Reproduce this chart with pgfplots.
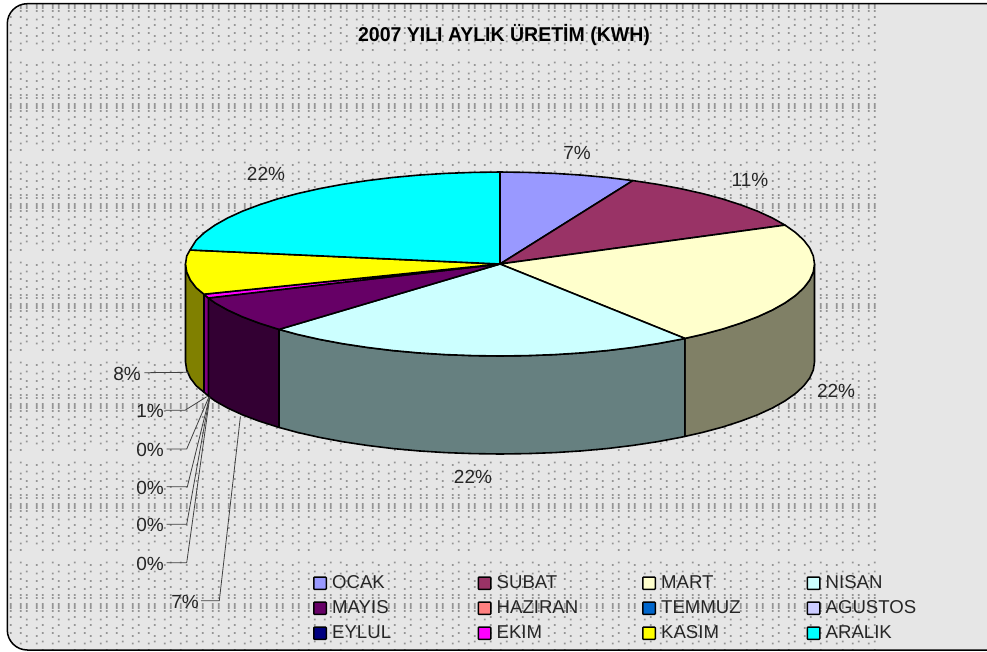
\documentclass[border=0pt]{standalone}
\usepackage{graphicx}
\usepackage{fontspec}
\setmainfont{Liberation Sans}
\usepackage{pgfplots}
\pgfplotsset{compat=1.18}
\definecolor{bgc}{HTML}{E6E6E6}
\definecolor{dotc}{HTML}{959595}
\definecolor{cOCAK}{HTML}{9999FF}
\definecolor{cSUBAT}{HTML}{993366}
\definecolor{cMART}{HTML}{FFFFCC}
\definecolor{cNISAN}{HTML}{CCFFFF}
\definecolor{cMAYIS}{HTML}{660066}
\definecolor{cHAZIRAN}{HTML}{FF8080}
\definecolor{cTEMMUZ}{HTML}{0066CC}
\definecolor{cAGUSTOS}{HTML}{CCCCFF}
\definecolor{cEYLUL}{HTML}{000080}
\definecolor{cEKIM}{HTML}{FF00FF}
\definecolor{cKASIM}{HTML}{FFFF00}
\definecolor{cARALIK}{HTML}{00FFFF}
\definecolor{sMART}{HTML}{808066}
\definecolor{sNISAN}{HTML}{668080}
\definecolor{sMAYIS}{HTML}{330033}
\definecolor{sEKIM}{HTML}{800080}
\definecolor{sKASIM}{HTML}{808000}
\def\tile{0/4,6/4,16/4,22/4,0/6,6/6,16/6,22/6,0/8,6/8,16/8,22/8,0/11,6/11,16/11,22/11,
0/17,22/17,6/19.5,16/19.5,6/25,22/25,0/28,16/28,0/33,22/33,6/36,16/36,6/41.5,22/41.5,0/43.5,16/43.5,0/50,22/50,
0/62.5,22/62.5,6/65,16/65,6/71.5,22/71.5,0/73.5,16/73.5,0/79,22/79,6/81,16/81,6/87,22/87,0/89,16/89,
0/95,6/95,16/95,22/95,0/98,6/98,16/98,22/98}
\newcommand{\lab}[3]{\node[font=\fontsize{19pt}{22pt}\selectfont,text=black!85,inner sep=0pt] at (axis cs:#1,#2) {#3};}
\pgfplotsset{slice/.style={draw=black,line width=1.6pt,line join=round,fill=#1,forget plot,no markers},
  leader/.style={draw=black!75,line width=0.8pt,forget plot,no markers}}
\begin{document}
\begin{tikzpicture}
\useasboundingbox (0,0) rectangle (987pt,651pt);
\clip (0,0) rectangle (987pt,651pt);
\begin{scope}[x=1pt,y=1pt]
\fill[bgc,rounded corners=20pt] (7.3,1) rectangle (1010,647.3);
\begin{scope}
\clip[rounded corners=20pt] (7.3,1) rectangle (1010,647.3);
\clip (0,0) rectangle (876.5,651);
\foreach \kx in {0,...,27}{\foreach \ky in {0,...,6}{
  \fill[dotc] \foreach \dx/\dy in \tile {(\kx*32+\dx-12.2,650.1-\ky*100-\dy) rectangle +(1.8,1.8)};
}}
\end{scope}
\draw[black,line width=1.5pt,rounded corners=20pt] (7.3,1) rectangle (1010,647.3);
\end{scope}
\begin{axis}[at={(0,0)},anchor=south west,scale only axis,width=987pt,height=651pt,
  xmin=0,xmax=987,ymin=0,ymax=651,y dir=reverse,hide axis,clip=false,
  title={\scalebox{0.975}[1]{2007 YILI AYLIK ÜRETİM (KWH)}},
  title style={at={(axis description cs:0.5106,0.9369)},anchor=center,inner sep=0pt,font=\bfseries\fontsize{20pt}{22pt}\selectfont},
  legend columns=4,
  legend style={at={(axis cs:313,576)},anchor=north west,draw=none,fill=none,inner sep=0pt,outer sep=0pt,
    font=\fontsize{18.6pt}{22pt}\selectfont,text=black!85,row sep=10.5pt,column sep=0pt,
    nodes={inner sep=0pt,outer sep=0pt},cells={anchor=west}},
  legend image code/.code={\draw[#1,draw=black,line width=1.5pt,rounded corners=0.8pt] (0pt,-6.2pt) rectangle (12.5pt,6.2pt);},
]
% sides
\addplot[slice=sMART] coordinates {(814.5,264)(813.3,272)(809.7,280)(803.8,287.8)(795.5,295.5)(785,302.9)(772.4,310)(757.6,316.8)(740.9,323.1)(722.4,329.1)(702.2,334.5)(684.9,338.4)(684.9,436.4)(702.2,432.5)(722.4,427.1)(740.9,421.1)(757.6,414.8)(772.4,408)(785,400.9)(795.5,393.5)(803.8,385.8)(809.7,378)(813.3,370)(814.5,362)} -- cycle;
\addplot[slice=sNISAN] coordinates {(684.9,338.4)(680.4,339.4)(657.3,343.7)(632.9,347.4)(607.6,350.5)(581.4,352.9)(554.6,354.6)(527.4,355.6)(500,356)(472.6,355.6)(445.4,354.6)(418.6,352.9)(392.4,350.5)(367.1,347.4)(342.7,343.7)(319.6,339.4)(297.8,334.5)(279,329.4)(279,427.4)(297.8,432.5)(319.6,437.4)(342.7,441.7)(367.1,445.4)(392.4,448.5)(418.6,450.9)(445.4,452.6)(472.6,453.6)(500,454)(527.4,453.6)(554.6,452.6)(581.4,450.9)(607.6,448.5)(632.9,445.4)(657.3,441.7)(680.4,437.4)(684.9,436.4)} -- cycle;
\addplot[slice=sMAYIS] coordinates {(279,329.4)(259.1,323.1)(242.4,316.8)(227.6,310)(215,302.9)(208.3,298)(208.3,396)(215,400.9)(227.6,408)(242.4,414.8)(259.1,421.1)(279,427.4)} -- cycle;
\addplot[slice=sEKIM] coordinates {(208.3,298)(204,294.2)(204,392.2)(208.3,396)} -- cycle;
\addplot[slice=sKASIM] coordinates {(204,294.2)(196.2,287.8)(190.3,280)(186.7,272)(185.5,264)(185.5,362)(186.7,370)(190.3,378)(196.2,385.8)(204,392.2)} -- cycle;
% top face
\addplot[slice=cOCAK] coordinates {(500,264)(500,172)(527.4,172.4)(554.6,173.4)(581.4,175.1)(607.6,177.5)(632.9,180.6)} -- cycle;
\addplot[slice=cSUBAT] coordinates {(500,264)(632.9,180.6)(657.3,184.3)(680.4,188.6)(702.2,193.5)(722.4,198.9)(740.9,204.9)(757.6,211.2)(772.4,218)(785,225.1)} -- cycle;
\addplot[slice=cMART] coordinates {(500,264)(785,225.1)(795.5,232.5)(803.8,240.2)(809.7,248)(813.3,256)(814.5,264)(813.3,272)(809.7,280)(803.8,287.8)(795.5,295.5)(785,302.9)(772.4,310)(757.6,316.8)(740.9,323.1)(722.4,329.1)(702.2,334.5)(684.9,338.4)} -- cycle;
\addplot[slice=cNISAN] coordinates {(500,264)(684.9,338.4)(680.4,339.4)(657.3,343.7)(632.9,347.4)(607.6,350.5)(581.4,352.9)(554.6,354.6)(527.4,355.6)(500,356)(472.6,355.6)(445.4,354.6)(418.6,352.9)(392.4,350.5)(367.1,347.4)(342.7,343.7)(319.6,339.4)(297.8,334.5)(279,329.4)} -- cycle;
\addplot[slice=cMAYIS] coordinates {(500,264)(279,329.4)(259.1,323.1)(242.4,316.8)(227.6,310)(215,302.9)(208.3,298)} -- cycle;
\addplot[slice=cEKIM] coordinates {(500,264)(208.3,298)(204,294.2)} -- cycle;
\addplot[slice=cKASIM] coordinates {(500,264)(204,294.2)(196.2,287.8)(190.3,280)(186.7,272)(185.5,264)(186.7,256)(190,250)} -- cycle;
\addplot[slice=cARALIK] coordinates {(500,264)(190,250)(196.2,240.2)(204.5,232.5)(215,225.1)(227.6,218)(242.4,211.2)(259.1,204.9)(277.6,198.9)(297.8,193.5)(319.6,188.6)(342.7,184.3)(367.1,180.6)(392.4,177.5)(418.6,175.1)(445.4,173.4)(472.6,172.4)(500,172)} -- cycle;
% leader lines
\addplot[leader] coordinates {(144.3,372.7)(187.3,372.3)(188.7,373)};
\addplot[leader] coordinates {(165.3,410.3)(185,410.3)(206.7,396.7)};
\addplot[leader] coordinates {(166.7,449)(186.7,449)(209,396.7)};
\addplot[leader] coordinates {(166.7,486.7)(187.3,486.7)(209.5,397)};
\addplot[leader] coordinates {(166.7,524.3)(186.7,524.3)(209.5,397)};
\addplot[leader] coordinates {(166.7,562.7)(186.7,562.7)(209.8,397)};
\addplot[leader] coordinates {(201,600.7)(219.3,600.7)(240.4,416.5)};
% labels
\lab{577}{153}{7\%}
\lab{750}{180}{11\%}
\lab{836}{391}{22\%}
\lab{473}{477}{22\%}
\lab{266}{174}{22\%}
\lab{127}{374}{8\%}
\lab{150}{411}{1\%}
\lab{150}{450}{0\%}
\lab{150}{488}{0\%}
\lab{150}{525}{0\%}
\lab{150}{564}{0\%}
\lab{185}{602}{7\%}
% legend
\addlegendimage{fill=cOCAK}\addlegendentry{\makebox[150.5pt][l]{\ OCAK}}
\addlegendimage{fill=cSUBAT}\addlegendentry{\makebox[150.5pt][l]{\ SUBAT}}
\addlegendimage{fill=cMART}\addlegendentry{\makebox[150.5pt][l]{\ MART}}
\addlegendimage{fill=cNISAN}\addlegendentry{\ NISAN}
\addlegendimage{fill=cMAYIS}\addlegendentry{\makebox[150.5pt][l]{\ MAYIS}}
\addlegendimage{fill=cHAZIRAN}\addlegendentry{\makebox[150.5pt][l]{\ HAZIRAN}}
\addlegendimage{fill=cTEMMUZ}\addlegendentry{\makebox[150.5pt][l]{\ TEMMUZ}}
\addlegendimage{fill=cAGUSTOS}\addlegendentry{\ AGUSTOS}
\addlegendimage{fill=cEYLUL}\addlegendentry{\makebox[150.5pt][l]{\ EYLUL}}
\addlegendimage{fill=cEKIM}\addlegendentry{\makebox[150.5pt][l]{\ EKIM}}
\addlegendimage{fill=cKASIM}\addlegendentry{\makebox[150.5pt][l]{\ KASIM}}
\addlegendimage{fill=cARALIK}\addlegendentry{\ ARALIK}
\end{axis}
\end{tikzpicture}
\end{document}
